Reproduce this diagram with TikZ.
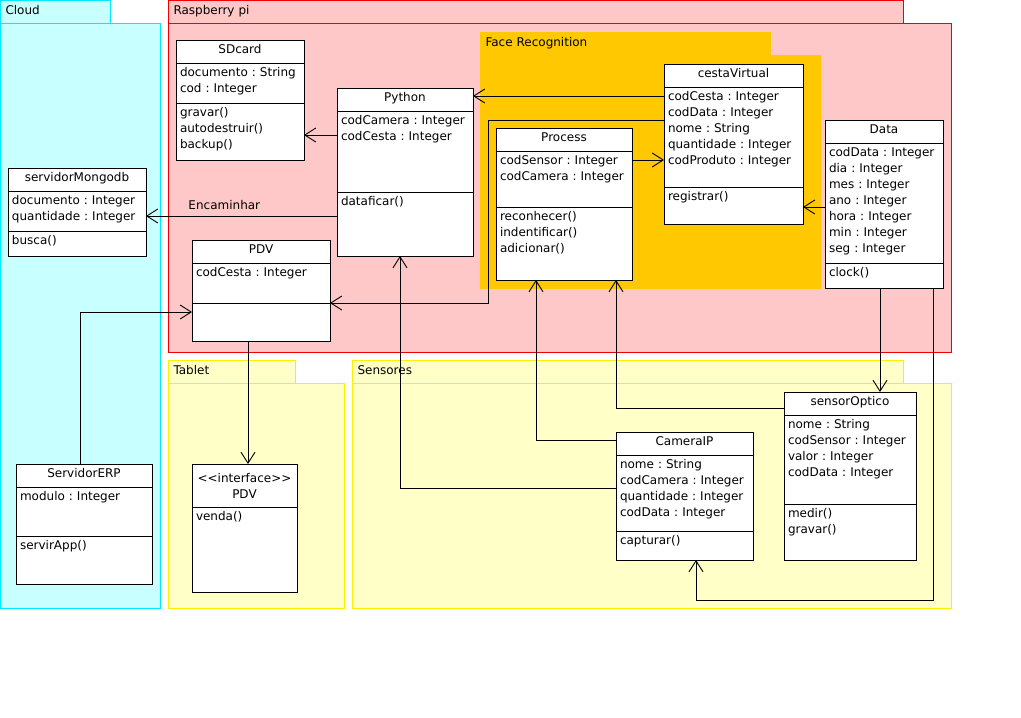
\documentclass[tikz,border=0pt]{standalone}
\usepackage{fontspec}
\setmainfont{DejaVu Sans}
\usepackage{xcolor}
\usetikzlibrary{arrows.meta,positioning}
\definecolor{cloudFill}{RGB}{200,255,255}
\definecolor{cloudLine}{RGB}{0,235,255}
\definecolor{piFill}{RGB}{255,200,200}
\definecolor{piLine}{RGB}{240,0,0}
\definecolor{faceOrange}{RGB}{255,200,0}
\definecolor{padFill}{RGB}{255,255,200}
\definecolor{padLine}{RGB}{250,240,0}
\frenchspacing

\newcommand{\umlbody}[2]{\parbox[c][#1][t]{\linewidth}{\baselineskip=16pt\vspace*{4pt}\let\\\cr\halign{##\hfil\cr#2\crcr}}}

\begin{document}
\begin{tikzpicture}[
    x=1pt, y=-1pt,
    font=\fontsize{12}{16}\selectfont\frenchspacing,
    pkgtab/.style={draw, anchor=north west, line width=1pt, inner xsep=5pt, inner ysep=0pt, minimum height=23pt, text height=9pt, text depth=5pt, align=left},
    pkg/.style={draw, anchor=north west, line width=1pt, inner sep=0pt},
    umlname/.style={draw, fill=white, anchor=north west, line width=1pt, inner sep=0pt, outer sep=0pt, minimum height=23pt, text height=9pt, text depth=5pt},
    umlhead/.style={draw, fill=white, anchor=north west, line width=1pt, inner sep=0pt, outer sep=0pt, align=center},
    umlpart/.style={draw, fill=white, anchor=north west, line width=1pt, inner xsep=4pt, inner ysep=0pt, outer sep=0pt},
    dep/.style={-{Straight Barb[length=11pt, width=14pt]}, line width=0.9pt}
]
\useasboundingbox (0,0) rectangle (1021,718);

% Packages
\node[pkgtab, draw=cloudLine, fill=cloudFill, text width=100pt] (cloudtab) at (0,0) {Cloud};
\node[pkg, draw=cloudLine, fill=cloudFill, minimum width=160pt, minimum height=585pt] (cloud) at (0,23) {};
\node[pkgtab, draw=piLine, fill=piFill, text width=725pt] (pitab) at (168,0) {Raspberry pi};
\node[pkg, draw=piLine, fill=piFill, minimum width=783pt, minimum height=329pt] (pi) at (168,23) {};
\node[pkgtab, draw=faceOrange, fill=faceOrange, text width=280pt] (facetab) at (480,32) {Face Recognition};
\node[pkg, draw=faceOrange, fill=faceOrange, minimum width=340pt, minimum height=233pt] (face) at (480,55) {};
\node[pkgtab, draw=padLine, fill=padFill, text width=117pt] (tablettab) at (168,360) {Tablet};
\node[pkg, draw=padLine, fill=padFill, minimum width=176pt, minimum height=225pt] (tablet) at (168,383) {};
\node[pkgtab, draw=padLine, fill=padFill, text width=541pt] (sensortab) at (352,360) {Sensores};
\node[pkg, draw=padLine, fill=padFill, minimum width=599pt, minimum height=225pt] (sensores) at (352,383) {};

% Raspberry pi classes
\node[umlname, minimum width=128pt] (sdname) at (176,40) {SDcard};
\node[umlpart, text width=120pt] (sdattr) at (sdname.south west) {\umlbody{40pt}{documento : String\\cod : Integer}};
\node[umlpart, text width=120pt] (sdop) at (sdattr.south west) {\umlbody{57pt}{gravar()\\autodestruir()\\backup()}};

\node[umlname, minimum width=136pt] (pyname) at (337,88) {Python};
\node[umlpart, text width=128pt] (pyattr) at (pyname.south west) {\umlbody{81pt}{codCamera : Integer\\codCesta : Integer}};
\node[umlpart, text width=128pt] (pyop) at (pyattr.south west) {\umlbody{64pt}{dataficar()}};

\node[umlname, minimum width=138pt] (pdvname) at (192,240) {PDV};
\node[umlpart, text width=130pt] (pdvattr) at (pdvname.south west) {\umlbody{40pt}{codCesta : Integer}};
\node[umlpart, text width=130pt] (pdvop) at (pdvattr.south west) {\umlbody{38pt}{}};

\node[umlname, minimum width=118pt] (dataname) at (825,120) {Data};
\node[umlpart, text width=110pt] (dataattr) at (dataname.south west) {\umlbody{120pt}{codData : Integer\\dia : Integer\\mes : Integer\\ano : Integer\\hora : Integer\\min : Integer\\seg : Integer}};
\node[umlpart, text width=110pt] (dataop) at (dataattr.south west) {\umlbody{25pt}{clock()}};

% Face Recognition classes
\node[umlname, minimum width=136pt] (procname) at (496,128) {Process};
\node[umlpart, text width=128pt] (procattr) at (procname.south west) {\umlbody{56pt}{codSensor : Integer\\codCamera : Integer}};
\node[umlpart, text width=128pt] (procop) at (procattr.south west) {\umlbody{73pt}{reconhecer()\\indentificar()\\adicionar()}};

\node[umlname, minimum width=139pt] (cestaname) at (664,64) {cestaVirtual};
\node[umlpart, text width=131pt] (cestaattr) at (cestaname.south west) {\umlbody{100pt}{codCesta : Integer\\codData : Integer\\nome : String\\quantidade : Integer\\codProduto : Integer}};
\node[umlpart, text width=131pt] (cestaop) at (cestaattr.south west) {\umlbody{37pt}{registrar()}};

% Cloud classes
\node[umlname, minimum width=138pt] (mongoname) at (8,168) {servidorMongodb};
\node[umlpart, text width=130pt] (mongoattr) at (mongoname.south west) {\umlbody{40pt}{documento : Integer\\quantidade : Integer}};
\node[umlpart, text width=130pt] (mongoop) at (mongoattr.south west) {\umlbody{25pt}{busca()}};

\node[umlname, minimum width=136pt] (erpname) at (16,464) {ServidorERP};
\node[umlpart, text width=128pt] (erpattr) at (erpname.south west) {\umlbody{49pt}{modulo : Integer}};
\node[umlpart, text width=128pt] (erpop) at (erpattr.south west) {\umlbody{48pt}{servirApp()}};

% Tablet
\node[umlhead, minimum width=105pt, minimum height=43pt] (ifname) at (192,464) {<\kern0pt<interface>\kern0pt>\\PDV};
\node[umlpart, text width=97pt] (ifop) at (ifname.south west) {\umlbody{85pt}{venda()}};

% Sensores
\node[umlname, minimum width=137pt] (camname) at (616,432) {CameraIP};
\node[umlpart, text width=129pt] (camattr) at (camname.south west) {\umlbody{76pt}{nome : String\\codCamera : Integer\\quantidade : Integer\\codData : Integer}};
\node[umlpart, text width=129pt] (camop) at (camattr.south west) {\umlbody{29pt}{capturar()}};

\node[umlname, minimum width=132pt] (sensorname) at (784,392) {sensorOptico};
\node[umlpart, text width=124pt] (sensorattr) at (sensorname.south west) {\umlbody{89pt}{nome : String\\codSensor : Integer\\valor : Integer\\codData : Integer}};
\node[umlpart, text width=124pt] (sensorop) at (sensorattr.south west) {\umlbody{56pt}{medir()\\gravar()}};

% Dependencies
\draw[dep] ([yshift=-9pt]cestaattr.north west) -- ([yshift=-9pt]cestaattr.north west -| pyname.east);
\draw[dep] ([yshift=-24pt]pyattr.north west) -- ([yshift=-24pt]pyattr.north west -| sdop.east);
\draw[dep] ([yshift=-24pt]pyop.north west) -- node[pos=0.59, above=3pt] (encaminhar) {Encaminhar} ([yshift=-24pt]pyop.north west -| mongoattr.east);
\draw[dep] ([yshift=-33pt]cestaattr.north west) -| ([xshift=-8pt]procop.west |- pdvop.north east) -- (pdvop.north east);
\draw[dep] ([yshift=-9pt]procattr.north east) -- ([yshift=-9pt]procattr.north east -| cestaattr.west);
\draw[dep] ([yshift=-64pt]dataattr.north west) -- ([yshift=-64pt]dataattr.north west -| cestaop.east);
\draw[dep] ([xshift=55pt]dataop.south west) -- ([xshift=55pt]dataop.south west |- sensorname.north);
\draw[dep] ([xshift=-10pt]dataop.south east) |- ([xshift=80pt, yshift=-40pt]camop.south west) -- ([xshift=80pt]camop.south west);
\draw[dep] ([yshift=-16pt]sensorname.north west) -| ([xshift=120pt]procop.south west);
\draw[dep] ([yshift=-8pt]camname.north west) -| ([xshift=40pt]procop.south west);
\draw[dep] ([yshift=-33pt]camattr.north west) -| ([xshift=63pt]pyop.south west);
\draw[dep] ([xshift=64pt]erpname.north west) |- ([yshift=-9pt]pdvop.north west);
\draw[dep] ([xshift=56pt]pdvop.south west) -- ([xshift=56pt]pdvop.south west |- ifname.north);

\end{tikzpicture}
\end{document}
